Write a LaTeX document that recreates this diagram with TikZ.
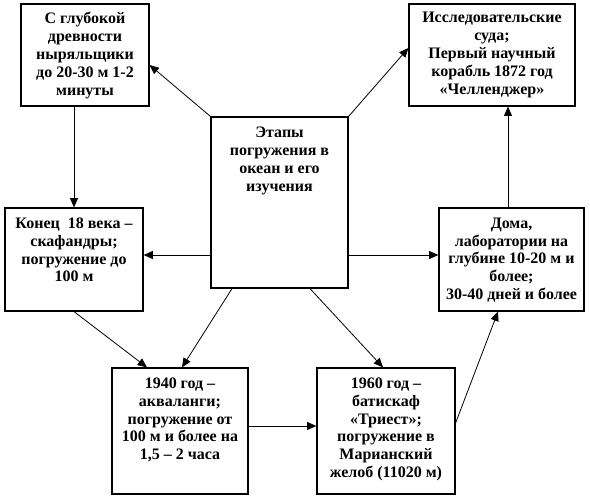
\documentclass[tikz,border=0pt]{standalone}
\usepackage{fontspec}
\setmainfont{Liberation Serif}
\usetikzlibrary{positioning, calc, arrows.meta}

\begin{document}
\begin{tikzpicture}[x=0.75pt, y=-0.75pt, >={Triangle[length=7pt, width=6pt]}]

    %--------------------%
    % Parameters
    %--------------------%
    \def\boxthic{0.9pt}
    \def\arrowthic{0.6pt}
    \def\toppad{6.5pt}

    \tikzset{
        stage/.style={draw, rectangle, line width=\boxthic, inner sep=0pt},
        txt/.style={align=center, inner sep=0pt, font=\bfseries\fontsize{12}{13.4}\selectfont}
    }

    \useasboundingbox (0,0) rectangle (590,499);

    %--------------------%
    % Top Row
    %--------------------%
    \node[stage, minimum width=128*0.75pt, minimum height=102*0.75pt] (divers) at (85,55) {};
    \node[txt, below=\toppad of divers.north] (diverstxt) {С глубокой\\древности\\ныряльщики\\до 20-30 м 1-2\\минуты};

    \node[stage, minimum width=166*0.75pt, minimum height=102*0.75pt] (ships) at (492,55) {};
    \node[txt, below=\toppad of ships.north] (shipstxt) {Исследовательские\\суда;\\Первый научный\\корабль 1872 год\\«Челленджер»};

    %--------------------%
    % Middle Row
    %--------------------%
    \node[stage, minimum width=137*0.75pt, minimum height=171*0.75pt] (stages) at (279.5,202.5) {};
    \node[txt, below=8pt of stages.north] (stagestxt) {Этапы\\погружения в\\океан и его\\изучения};

    \node[stage, minimum width=138*0.75pt, minimum height=103*0.75pt] (suits) at (74,259.5) {};
    \node[txt, below=7.5pt of suits.north] (suitstxt) {Конец\ \ 18 века –\\скафандры;\\погружение до\\100 м};

    \node[stage, minimum width=145*0.75pt, minimum height=103*0.75pt] (homes) at (511.5,259.5) {};
    \node[txt, below=7.5pt of homes.north] (homestxt) {Дома,\\лаборатории на\\глубине 10-20 м и\\более;\\30-40 дней и более};

    %--------------------%
    % Bottom Row
    %--------------------%
    \node[stage, minimum width=136*0.75pt, minimum height=126*0.75pt] (scuba) at (180,431) {};
    \node[txt, below=7.5pt of scuba.north] (scubatxt) {1940 год –\\акваланги;\\погружение от\\100 м и более на\\1,5 – 2 часа};

    \node[stage, minimum width=138*0.75pt, minimum height=126*0.75pt] (trieste) at (386,431) {};
    \node[txt, below=7.5pt of trieste.north] (triestetxt) {1960 год –\\батискаф\\«Триест»;\\погружение в\\Марианский\\желоб (11020 м)};

    %--------------------%
    % Connections
    %--------------------%
    \coordinate (midlevel) at (0,255);
    \coordinate (lowlevel) at (0,426);

    \draw[->, line width=\arrowthic] (stages.north west) -- ($(divers.east)+(0,10)$);
    \draw[->, line width=\arrowthic] (stages.north east) -- ($(ships.west)+(0,-7)$);
    \draw[->, line width=\arrowthic] (divers.south -| suits.north) -- (suits.north);
    \draw[->, line width=\arrowthic] (stages.west |- midlevel) -- (suits.east |- midlevel);
    \draw[->, line width=\arrowthic] (stages.east |- midlevel) -- (homes.west |- midlevel);
    \draw[->, line width=\arrowthic] ($(homes.north)+(-3.5,0)$) coordinate (up) -- (up |- ships.south);

    \draw[->, line width=\arrowthic] (suits.south) -- ($(scuba.north)+(-33,0)$);
    \draw[->, line width=\arrowthic] ($(stages.south)+(-47.5,0)$) -- ($(scuba.north)+(2,0)$);
    \draw[->, line width=\arrowthic] ($(stages.south)+(30.5,0)$) -- ($(trieste.north)+(-3,0)$);
    \draw[->, line width=\arrowthic] (scuba.east |- lowlevel) -- (trieste.west |- lowlevel);
    \draw[->, line width=\arrowthic] ($(trieste.east)+(0,-8)$) -- ($(homes.south)+(-13.5,0)$);
\end{tikzpicture}
\end{document}
